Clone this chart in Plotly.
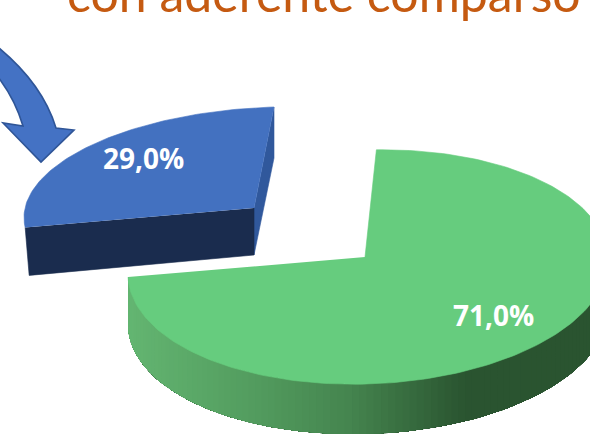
import numpy as np
import plotly.graph_objects as go

# data
categories = ["Aderente comparso", "Altri"]
shares = [29.0, 71.0]
title_text = "con aderente comparso"

# pixel canvas and slice appearance (separate from the data)
W, H = 590, 434
BLUE = dict(cx=274, cy=210, rx=250, ry=103, tip=(254, 208), start=-90, direction=-1, warp=0.915,
            depth=48, top="#4371c0", front="#1a2c4e", side="#30589c", label=(143, 158))
GREEN = dict(cx=368, cy=267, rx=240, ry=117, tip=(365, 257), start=-88, direction=1, warp=1.043,
             depth=50, top="#66cc7e", label=(493, 315))
SHEAR = 0.03


def rim(s, t_deg):
    t = np.radians(t_deg)
    x = s["cx"] + s["rx"] * np.cos(t)
    y = s["cy"] + s["ry"] * np.sin(t) - SHEAR * s["rx"] * np.cos(t)
    return x, y


def sweep(s, share):
    return s["start"], s["start"] + s["direction"] * share * 3.6 * s["warp"]


def poly(xs, ys, color, width=0.6):
    return go.Scatter(x=list(xs), y=list(ys), mode="lines", fill="toself", fillcolor=color,
                      line=dict(color=color, width=width), hoverinfo="skip", showlegend=False)


def mix(a, b, f):
    c = [a[i] + (b[i] - a[i]) * f for i in range(3)]
    return "rgb(%d,%d,%d)" % tuple(c)


fig = go.Figure()

# blue slice
t0, t1 = sweep(BLUE, shares[0])
ts = np.linspace(t0, t1, 80)
bx, by = rim(BLUE, ts)
tipx, tipy = BLUE["tip"]
d = BLUE["depth"]
fig.add_trace(poly([bx[0], bx[0], tipx, tipx], [by[0], by[0] + d + 3, tipy + d - 1, tipy], BLUE["side"]))
fig.add_trace(poly([bx[-1], bx[-1] + 4, tipx, tipx], [by[-1], by[-1] + d, tipy + d - 1, tipy], BLUE["front"]))
fig.add_trace(poly(np.r_[tipx, bx], np.r_[tipy, by], BLUE["top"]))

# green slice: shaded wall (painted from the right, each strip reaching to the wall's end) then top
t0, t1 = sweep(GREEN, shares[1])
stops = [(128, (100, 182, 114)), (250, (84, 158, 96)), (350, (70, 134, 80)),
         (470, (42, 84, 48)), (600, (42, 84, 48))]
edges = np.linspace(-10, t1, 110)
d = GREEN["depth"]
for i, a in enumerate(edges[:-1]):
    seg = np.linspace(a, t1, max(3, 110 - i))
    x, y = rim(GREEN, seg)
    xm = float(np.clip(x[0], stops[0][0], stops[-1][0]))
    col = mix(stops[-1][1], stops[-1][1], 0)
    for (x0, c0), (x1, c1) in zip(stops[:-1], stops[1:]):
        if x0 <= xm <= x1:
            col = mix(c0, c1, (xm - x0) / (x1 - x0))
    fig.add_trace(poly(np.r_[x, x[::-1]], np.r_[y, y[::-1] + d], col, width=0))
gx, gy = rim(GREEN, np.linspace(t0, t1, 200))
tipx, tipy = GREEN["tip"]
fig.add_trace(poly(np.r_[tipx, gx], np.r_[tipy, gy], GREEN["top"]))

# percentage labels
for s, v in zip((BLUE, GREEN), shares):
    fig.add_annotation(x=s["label"][0], y=s["label"][1], xref="x", yref="y", showarrow=False,
                       text=f"{v:.1f}%".replace(".", ","),
                       font=dict(family="Open Sans", size=28, color="white", weight="bold"))

# title (cropped by the top of the picture)
fig.add_annotation(x=324, y=25, xref="x", yref="y", showarrow=False, yanchor="bottom", xanchor="center",
                   text=title_text, font=dict(family="Lato", size=50, color="#C55A11"))

# curved arrow
fig.add_shape(type="path", xref="x", yref="y", fillcolor="#4472C4", line=dict(color="#2F5597", width=1.6),
              path="M -6 44 Q 42 82 56 128 L 74 130 L 41 162 L 3 123 L 23 126 Q 14 96 -6 72 Z")

fig.update_xaxes(range=[0, W], visible=False)
fig.update_yaxes(range=[H, 0], visible=False)
fig.update_layout(width=W, height=H, margin=dict(l=0, r=0, t=0, b=0), paper_bgcolor="white",
                  plot_bgcolor="white", showlegend=False, hovermode=False)
fig.write_html("out.html", config=dict(displayModeBar=False),
               post_script="document.body.style.margin='0';document.documentElement.style.overflow='hidden';")
